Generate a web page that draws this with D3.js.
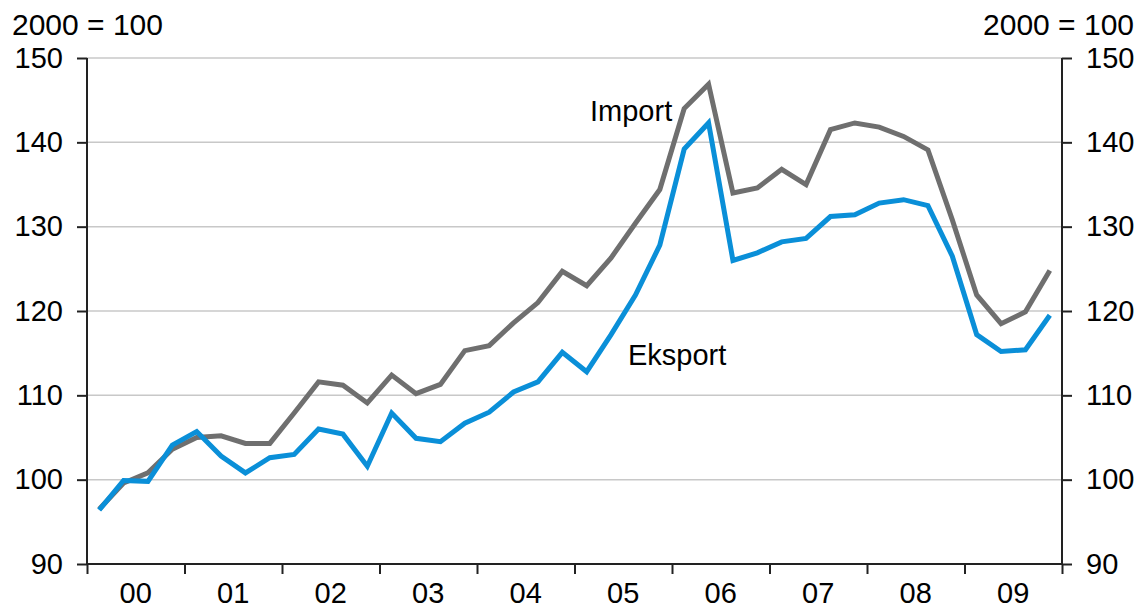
<!DOCTYPE html>
<html>
<head>
<meta charset="utf-8">
<script src="https://cdn.jsdelivr.net/npm/d3@7"></script>
<style>
  body { margin: 0; background: #fff; }
  svg text { font-family: "Liberation Sans", Arial, Helvetica, sans-serif; fill: #000; }
</style>
</head>
<body>
<svg id="chart"></svg>
<script>
// quarterly index, 2000 = 100
const years = ['00', '01', '02', '03', '04', '05', '06', '07', '08', '09']
const eksport = [96.4, 99.9, 99.8, 104.1, 105.7, 102.8, 100.8, 102.6, 103.0, 106.0,
	105.4, 101.6, 107.9, 104.9, 104.5, 106.7, 108.0, 110.4, 111.6, 115.1,
	112.8, 117.2, 121.9, 127.8, 139.2, 142.3, 126.0, 126.9, 128.2, 128.6,
	131.2, 131.4, 132.8, 133.2, 132.5, 126.5, 117.2, 115.2, 115.4, 119.5]
const importVals = [96.5, 99.6, 100.8, 103.6, 105.0, 105.2, 104.3, 104.3, 107.9, 111.6,
	111.2, 109.1, 112.4, 110.2, 111.3, 115.3, 115.9, 118.6, 121.0, 124.7,
	123.0, 126.3, 130.4, 134.4, 144.0, 146.9, 134.0, 134.6, 136.8, 135.0,
	141.5, 142.3, 141.8, 140.7, 139.1, 130.8, 121.9, 118.5, 119.9, 124.8]
const yTicks = [90, 100, 110, 120, 130, 140, 150]
const unitLabel = '2000 = 100'

const width = 1143, height = 608
const m = {left: 87, right: 1062, top: 58, bottom: 564}
const fs = 29

const svg = d3.select('#chart').attr('width', width).attr('height', height)

const x = d3.scaleLinear().domain([0, years.length * 4]).range([m.left, m.right])
const y = d3.scaleLinear().domain([90, 150]).range([m.bottom, m.top])

// gridlines
svg.append('g')
	.selectAll('line')
	.data(yTicks.filter(d => d > 90))
	.join('line')
		.attr('x1', m.left).attr('x2', m.right)
		.attr('y1', d => y(d)).attr('y2', d => y(d))
		.attr('stroke', '#c8c8c8')
		.attr('stroke-width', 1.5)

const line = d3.line()
	.x((d, i) => x(i + 0.5))
	.y(d => y(d))

svg.append('path')
	.datum(importVals)
	.attr('d', line)
	.attr('fill', 'none')
	.attr('stroke', '#6f6f6f')
	.attr('stroke-width', 5)
	.attr('stroke-linejoin', 'miter')

svg.append('path')
	.datum(eksport)
	.attr('d', line)
	.attr('fill', 'none')
	.attr('stroke', '#0a8fd8')
	.attr('stroke-width', 5)
	.attr('stroke-linejoin', 'miter')

// axes
const yLeft = d3.axisLeft(y).tickValues(yTicks).tickSize(10).tickPadding(14)
const yRight = d3.axisRight(y).tickValues(yTicks).tickSize(10).tickPadding(14)
const xAxis = d3.axisBottom(x).tickValues(d3.range(0, years.length * 4 + 1, 4)).tickSize(10).tickFormat('')

function styleAxis(g) {
	g.select('.domain').attr('stroke', '#222').attr('stroke-width', 2)
	g.selectAll('.tick line').attr('stroke', '#222').attr('stroke-width', 2)
	g.selectAll('.tick text').attr('font-size', fs).attr('fill', '#000')
}

svg.append('g').attr('transform', `translate(${m.left},0)`).call(yLeft).call(styleAxis)
	.call(g => g.select('.domain').attr('d', `M0,${m.top}V${m.bottom}`))
svg.append('g').attr('transform', `translate(${m.right},0)`).call(yRight).call(styleAxis)
	.call(g => g.select('.domain').attr('d', `M0,${m.top}V${m.bottom}`))
svg.append('g').attr('transform', `translate(0,${m.bottom})`).call(xAxis).call(styleAxis)
	.call(g => g.select('.domain').attr('d', `M${m.left},0H${m.right}`))

svg.append('g')
	.selectAll('text')
	.data(years)
	.join('text')
		.attr('x', (d, i) => x(i * 4 + 2))
		.attr('y', 603)
		.attr('text-anchor', 'middle')
		.attr('font-size', fs)
		.text(d => d)

svg.append('text').attr('x', 12).attr('y', 35).attr('font-size', 30).text(unitLabel)
svg.append('text').attr('x', 1134).attr('y', 35).attr('font-size', 30).attr('text-anchor', 'end').text(unitLabel)

svg.append('text').attr('x', 590).attr('y', 121).attr('font-size', fs).text('Import')
svg.append('text').attr('x', 628).attr('y', 365).attr('font-size', fs).text('Eksport')
</script>
</body>
</html>
